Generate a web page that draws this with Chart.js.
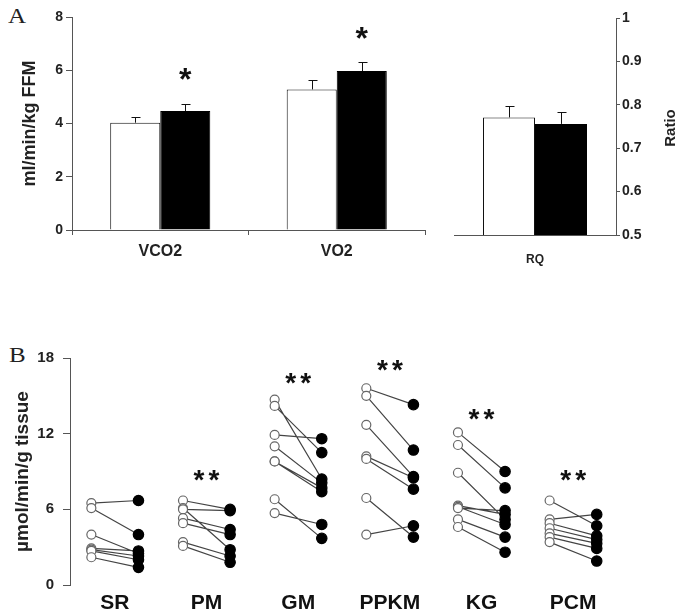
<!DOCTYPE html>
<html>
<head>
<meta charset="utf-8">
<script src="https://cdn.jsdelivr.net/npm/chart.js@4"></script>
<style>
  body { margin: 0; background: #fff; width: 688px; height: 612px; position: relative; overflow: hidden; }
  canvas { position: absolute; }
  .panel { position: absolute; font-family: "Liberation Serif", "DejaVu Serif", serif; font-size: 20px; color: #222; transform: scaleX(1.25); transform-origin: left top; }
</style>
</head>
<body>
<div class="panel" style="left:8px;top:5px">A</div>
<div class="panel" style="left:9px;top:344px">B</div>
<canvas id="chartGas" width="430" height="270" style="left:0;top:0"></canvas>
<canvas id="chartRq" width="258" height="270" style="left:430px;top:0"></canvas>
<canvas id="chartTissue" width="688" height="272" style="left:0;top:340px"></canvas>
<script>
// Panel A: gas exchange (open = control, filled = treated), mean + SEM
const gasLabels = ["VCO2", "VO2"];
const gasOpen = [4.03, 5.28];
const gasOpenErr = [0.23, 0.34];
const gasFilled = [4.47, 5.97];
const gasFilledErr = [0.25, 0.33];
const gasStarY = [5.86, 7.4];

const rqLabels = ["RQ"];
const rqOpen = [0.771];
const rqOpenErr = [0.027];
const rqFilled = [0.756];
const rqFilledErr = [0.027];

// Panel B: paired values per tissue, before (open) and after (filled)
const tissueGroups = ["SR", "PM", "GM", "PPKM", "KG", "PCM"];
const srOpen = [6.5, 6.1, 4.0, 2.9, 2.8, 2.7, 2.2];
const srFilled = [6.7, 4.0, 2.5, 2.7, 2.3, 2.0, 1.4];
const pmOpen = [6.7, 6.1, 6.0, 5.3, 4.9, 3.4, 3.1];
const pmFilled = [6.0, 2.8, 5.9, 4.4, 4.0, 2.3, 1.8];
const gmOpen = [14.7, 14.2, 11.9, 11.0, 9.8, 9.8, 6.8, 5.7];
const gmFilled = [8.4, 10.5, 11.6, 8.1, 7.7, 7.4, 3.7, 4.8];
const ppkmOpen = [15.6, 15.0, 12.7, 10.2, 10.0, 6.9, 4.0];
const ppkmFilled = [14.3, 10.7, 8.6, 8.5, 7.6, 3.8, 4.7];
const kgOpen = [12.1, 11.1, 8.9, 6.3, 6.2, 6.1, 5.2, 4.6];
const kgFilled = [9.0, 7.7, 5.2, 5.6, 4.8, 5.9, 3.8, 2.6];
const pcmOpen = [6.7, 5.2, 4.9, 4.5, 4.1, 3.8, 3.4];
const pcmFilled = [4.7, 5.6, 3.9, 3.6, 3.3, 2.9, 1.9];
const starGroups = ["PM", "GM", "PPKM", "KG", "PCM"];
const starY = [8.7, 16.4, 17.4, 13.5, 8.7];

const pairs = [
  [srOpen, srFilled], [pmOpen, pmFilled], [gmOpen, gmFilled],
  [ppkmOpen, ppkmFilled], [kgOpen, kgFilled], [pcmOpen, pcmFilled]
];

Chart.defaults.font.family = '"Liberation Sans", Arial, sans-serif';
Chart.defaults.color = "#222";
const axisColor = "#555";
const bold = (size) => ({ size: size, weight: "bold" });

function drawStars(ctx, x, cy, size, count, gap) {
  ctx.save();
  ctx.fillStyle = "#111";
  ctx.font = "bold " + size + 'px "Liberation Sans", Arial, sans-serif';
  ctx.textAlign = "center";
  ctx.textBaseline = "alphabetic";
  const m = ctx.measureText("*");
  const base = cy + (m.actualBoundingBoxAscent - m.actualBoundingBoxDescent) / 2;
  for (let k = 0; k < count; k++) {
    ctx.fillText("*", x + (k - (count - 1) / 2) * gap, base);
  }
  ctx.restore();
}

const errorBars = {
  id: "errorBars",
  afterDatasetsDraw(chart) {
    const ctx = chart.ctx;
    const y = chart.scales.y;
    ctx.save();
    ctx.strokeStyle = "#111";
    ctx.lineWidth = 1;
    chart.data.datasets.forEach((ds, i) => {
      chart.getDatasetMeta(i).data.forEach((bar, j) => {
        const top = Math.round(y.getPixelForValue(ds.data[j] + ds.errors[j])) + 0.5;
        const x = Math.round(bar.x) + 0.5;
        ctx.beginPath();
        ctx.moveTo(x, bar.y);
        ctx.lineTo(x, top);
        ctx.moveTo(x - 4, top);
        ctx.lineTo(x + 5, top);
        ctx.stroke();
      });
    });
    ctx.restore();
  }
};

const gasStars = {
  id: "gasStars",
  afterDatasetsDraw(chart) {
    const meta = chart.getDatasetMeta(1);
    gasStarY.forEach((v, j) => {
      drawStars(chart.ctx, meta.data[j].x, chart.scales.y.getPixelForValue(v), 32, 1, 0);
    });
  }
};

const ratioTitle = {
  id: "ratioTitle",
  afterDraw(chart) {
    const ctx = chart.ctx;
    ctx.save();
    ctx.translate(241, 128);
    ctx.rotate(-Math.PI / 2);
    ctx.font = 'bold 15px "Liberation Sans", Arial, sans-serif';
    ctx.fillStyle = "#222";
    ctx.textAlign = "center";
    ctx.textBaseline = "middle";
    ctx.fillText("Ratio", 0, 0);
    ctx.restore();
  }
};

const tissueStars = {
  id: "tissueStars",
  afterDatasetsDraw(chart) {
    starGroups.forEach((g, j) => {
      const x = chart.scales.x.getPixelForValue(tissueGroups.indexOf(g));
      drawStars(chart.ctx, x, chart.scales.y.getPixelForValue(starY[j]), 28, 2, 15);
    });
  }
};

// Panel A, left part
new Chart(document.getElementById("chartGas"), {
  type: "bar",
  data: {
    labels: gasLabels,
    datasets: [
      { data: gasOpen, errors: gasOpenErr, backgroundColor: "#fff", borderColor: "#111", borderWidth: 1 },
      { data: gasFilled, errors: gasFilledErr, backgroundColor: "#000", borderColor: "#000", borderWidth: 1 }
    ]
  },
  options: {
    responsive: false,
    animation: false,
    layout: { padding: { top: 17, right: 5, left: 0, bottom: 0 } },
    plugins: { legend: { display: false }, tooltip: { enabled: false } },
    datasets: { bar: { barPercentage: 1, categoryPercentage: 0.567 } },
    scales: {
      x: {
        grid: { offset: true, drawOnChartArea: false, tickLength: 5, color: axisColor },
        border: { color: axisColor },
        ticks: { font: bold(16), color: "#222", padding: 7 },
        afterFit: (s) => { s.height = 40; }
      },
      y: {
        min: 0, max: 8,
        ticks: { stepSize: 2, font: bold(14), color: "#222", padding: 3 },
        grid: { drawOnChartArea: false, tickLength: 6, color: axisColor },
        border: { color: axisColor },
        title: { display: true, text: "ml/min/kg FFM", font: bold(18), color: "#222", padding: { top: 19, bottom: 0 } },
        afterFit: (s) => { s.width = 72; }
      }
    }
  },
  plugins: [errorBars, gasStars]
});

// Panel A, right part
new Chart(document.getElementById("chartRq"), {
  type: "bar",
  data: {
    labels: rqLabels,
    datasets: [
      { data: rqOpen, errors: rqOpenErr, backgroundColor: "#fff", borderColor: "#111", borderWidth: 1 },
      { data: rqFilled, errors: rqFilledErr, backgroundColor: "#000", borderColor: "#000", borderWidth: 1 }
    ]
  },
  options: {
    responsive: false,
    animation: false,
    layout: { padding: { top: 18, right: 0, left: 24, bottom: 0 } },
    plugins: { legend: { display: false }, tooltip: { enabled: false } },
    datasets: { bar: { barPercentage: 1, categoryPercentage: 0.642 } },
    scales: {
      x: {
        grid: { display: true, drawOnChartArea: false, drawTicks: false },
        border: { color: axisColor },
        ticks: { font: bold(12), color: "#222", padding: 17 },
        afterFit: (s) => { s.height = 35; }
      },
      y: {
        position: "right",
        min: 0.5, max: 1,
        ticks: {
          stepSize: 0.1, font: bold(14), color: "#222", padding: 2,
          callback: (v) => (v === 1 ? "1" : v.toFixed(1))
        },
        grid: { drawOnChartArea: false, tickLength: 4, color: axisColor },
        border: { color: axisColor },
        afterFit: (s) => { s.width = 72; }
      }
    }
  },
  plugins: [errorBars, ratioTitle]
});

// Panel B
const tissueSets = pairs.map((p, i) => ({
  data: p[0].flatMap((v, k) => [
    { x: i - 0.257, y: v },
    { x: i + 0.257, y: p[1][k] },
    { x: i, y: null }
  ]),
  borderColor: "#444",
  borderWidth: 1.2,
  spanGaps: false,
  pointRadius: (c) => (c.raw && c.raw.x > i ? 5.2 : 4.5),
  pointBackgroundColor: (c) => (c.raw && c.raw.x > i ? "#000" : "#fff"),
  pointBorderColor: (c) => (c.raw && c.raw.x > i ? "#000" : "#666"),
  pointBorderWidth: 1.2
}));

new Chart(document.getElementById("chartTissue"), {
  type: "line",
  data: { datasets: tissueSets },
  options: {
    responsive: false,
    animation: false,
    layout: { padding: { top: 15, right: 69, left: 0, bottom: 0 } },
    plugins: { legend: { display: false }, tooltip: { enabled: false } },
    scales: {
      x: {
        type: "linear",
        min: -0.49, max: 5.5,
        afterBuildTicks: (s) => { s.ticks = tissueGroups.map((g, i) => ({ value: i })); },
        ticks: { callback: (v) => tissueGroups[v], font: { size: 21, weight: "bold", lineHeight: 1 }, color: "#111", padding: 0 },
        grid: { display: false },
        border: { display: false },
        afterFit: (s) => { s.height = 27; }
      },
      y: {
        min: 0, max: 18,
        ticks: { stepSize: 6, font: bold(15), color: "#222", padding: 9 },
        grid: { drawOnChartArea: false, tickLength: 7, color: axisColor },
        border: { color: axisColor },
        title: { display: true, text: "µmol/min/g tissue", font: bold(19), color: "#222", padding: { top: 11, bottom: 0 } },
        afterFit: (s) => { s.width = 70; }
      }
    }
  },
  plugins: [tissueStars]
});
</script>
</body>
</html>
